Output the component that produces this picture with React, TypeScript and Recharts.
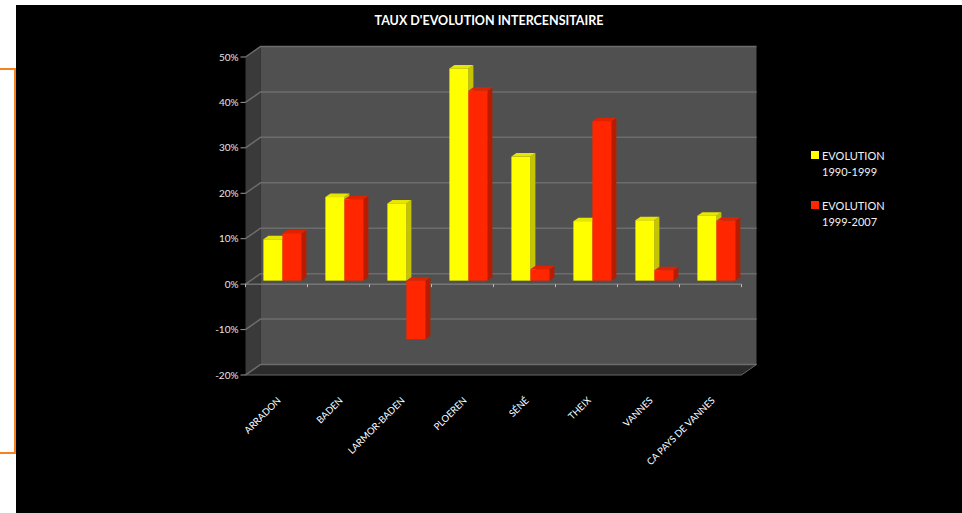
import React from 'react';
import { BarChart, Bar, XAxis, YAxis, CartesianGrid } from 'recharts';

// communes
const categories = ['ARRADON', 'BADEN', 'LARMOR-BADEN', 'PLOEREN', 'SÉNÉ', 'THEIX', 'VANNES', 'CA PAYS DE VANNES'];
// taux d'évolution (fractions)
const evol9099 = [0.091, 0.184, 0.17, 0.467, 0.273, 0.131, 0.133, 0.143];
const evol9907 = [0.104, 0.179, -0.129, 0.418, 0.025, 0.351, 0.023, 0.132];
const yTicks = [-0.2, -0.1, 0, 0.1, 0.2, 0.3, 0.4, 0.5];
const seriesLabels = [['EVOLUTION', '1990-1999'], ['EVOLUTION', '1999-2007']];

const data = categories.map((name, i) => ({ name, a: evol9099[i], b: evol9907[i] }));

const W = 946;
const H = 508;
const PLOT_LEFT = 229.5;
const PLOT_TOP = 52;
const PLOT_RIGHT = 725.5;
const PLOT_BOTTOM = 370;
const DX = 15; // depth of the 3D box
const DY = -10.5;
const Y_ZERO = PLOT_TOP + ((0.5 - 0) / 0.7) * (PLOT_BOTTOM - PLOT_TOP);
const FONT = 'Lato, "Liberation Sans", sans-serif';

const PALETTE = [
  { front: '#ffff00', side: '#c4c400', top: '#e6e600' },
  { front: '#ff2600', side: '#b81c00', top: '#e02200' },
];

const Box3D = (props: any) => {
  const { x, y, width, height, palette } = props;
  if (x == null || y == null) return null;
  const top = Math.min(y, y + height) - 3.5;
  const h = Math.abs(height);
  const bx = x + 5.5;
  const sx = 5;
  const sy = -3.5;
  return (
    <g>
      <polygon
        points={`${bx + width},${top} ${bx + width + sx},${top + sy} ${bx + width + sx},${top + h + sy} ${bx + width},${top + h}`}
        fill={palette.side}
      />
      <polygon
        points={`${bx},${top} ${bx + sx},${top + sy} ${bx + width + sx},${top + sy} ${bx + width},${top}`}
        fill={palette.top}
      />
      <rect x={bx} y={top} width={width} height={h} fill={palette.front} />
    </g>
  );
};

const gridLine = (props: any) => {
  const { x1, x2, y1, key } = props;
  const isZero = Math.abs(y1 - Y_ZERO) < 1;
  const band = (x2 - x1) / categories.length;
  return (
    <g key={key}>
      <polyline
        points={`${x1},${y1} ${x1 + DX},${y1 + DY} ${x2 + DX},${y1 + DY}`}
        fill="none"
        stroke="#6c6c6c"
        strokeWidth={1.5}
      />
      {isZero && (
        <g>
          <line x1={x1} y1={y1} x2={x2} y2={y1} stroke="#8c8c8c" strokeWidth={1} />
          {categories.concat(['']).map((_, i) => (
            <line key={i} x1={x1 + i * band} y1={y1} x2={x1 + i * band} y2={y1 + 3} stroke="#bdbdbd" />
          ))}
        </g>
      )}
    </g>
  );
};

const CategoryTick = (props: any) => {
  const { x, y, payload } = props;
  const ax = x + 5;
  const ay = y + 26;
  return (
    <text
      x={ax}
      y={ay}
      transform={`rotate(-45 ${ax} ${ay})`}
      textAnchor="end"
      fill="#ffffff"
      fontSize={9.5}
      fontFamily={FONT}
    >
      {payload.value}
    </text>
  );
};

export default function App() {
  return (
    <div style={{ position: 'absolute', left: 0, top: 0, width: 962, height: 513, background: '#fff', overflow: 'hidden' }}>
      <div style={{ position: 'absolute', left: -10, top: 68, width: 22, height: 382, border: '2px solid #f5821f' }} />
      <div style={{ position: 'absolute', left: 16, top: 5, width: W, height: H, background: '#000' }}>
        {/* walls and floor */}
        <svg width={W} height={H} style={{ position: 'absolute', left: 0, top: 0 }}>
          <polygon
            points={`${PLOT_LEFT},${PLOT_TOP} ${PLOT_LEFT + DX},${PLOT_TOP + DY} ${PLOT_LEFT + DX},${PLOT_BOTTOM + DY} ${PLOT_LEFT},${PLOT_BOTTOM}`}
            fill="#3a3a3a"
          />
          <rect x={PLOT_LEFT + DX} y={PLOT_TOP + DY} width={PLOT_RIGHT - PLOT_LEFT} height={PLOT_BOTTOM - PLOT_TOP} fill="#505050" />
          <polygon
            points={`${PLOT_LEFT},${PLOT_BOTTOM} ${PLOT_RIGHT},${PLOT_BOTTOM} ${PLOT_RIGHT + DX},${PLOT_BOTTOM + DY} ${PLOT_LEFT + DX},${PLOT_BOTTOM + DY}`}
            fill="#2b2b2b"
            stroke="#686868"
            strokeWidth={1}
          />
        </svg>
        <div style={{ position: 'absolute', left: 0, top: 8, width: W, textAlign: 'center', color: '#fff', fontFamily: FONT, fontWeight: 700, fontSize: 12.5 }}>
          TAUX D'EVOLUTION INTERCENSITAIRE
        </div>
        <div style={{ position: 'absolute', left: 0, top: 0 }}>
          <BarChart
            width={W}
            height={H}
            data={data}
            margin={{ top: PLOT_TOP, right: W - PLOT_RIGHT, bottom: H - PLOT_BOTTOM - 30, left: PLOT_LEFT - 60 }}
            barCategoryGap="20%"
            barGap={0}
          >
            <CartesianGrid vertical={false} horizontal={gridLine} />
            <XAxis
              dataKey="name"
              height={30}
              axisLine={false}
              tickLine={false}
              tickSize={0}
              tickMargin={0}
              interval={0}
              tick={<CategoryTick />}
            />
            <YAxis
              width={60}
              domain={[-0.2, 0.5]}
              ticks={yTicks}
              axisLine={false}
              tickLine={{ stroke: '#9a9a9a' }}
              tickSize={5}
              tickFormatter={(v: number) => `${Math.round(v * 100)}%`}
              tick={{ fill: '#e6e6e6', fontSize: 10, fontFamily: FONT }}
            />
            <Bar dataKey="a" name="EVOLUTION 1990-1999" fill={PALETTE[0].front} isAnimationActive={false}
              shape={(p: any) => <Box3D {...p} palette={PALETTE[0]} />} />
            <Bar dataKey="b" name="EVOLUTION 1999-2007" fill={PALETTE[1].front} isAnimationActive={false}
              shape={(p: any) => <Box3D {...p} palette={PALETTE[1]} />} />
          </BarChart>
        </div>
        {/* legend */}
        <div style={{ position: 'absolute', left: 795, top: 143, fontFamily: FONT, fontSize: 11, color: '#f2f2f2', lineHeight: '15.5px' }}>
          {seriesLabels.map((lines, i) => (
            <div key={i} style={{ position: 'relative', paddingLeft: 11, marginBottom: i === 0 ? 19 : 0 }}>
              <span style={{ position: 'absolute', left: 0, top: 3, width: 8, height: 8, background: PALETTE[i].front }} />
              {lines.map((l) => (
                <div key={l}>{l}</div>
              ))}
            </div>
          ))}
        </div>
      </div>
    </div>
  );
}
